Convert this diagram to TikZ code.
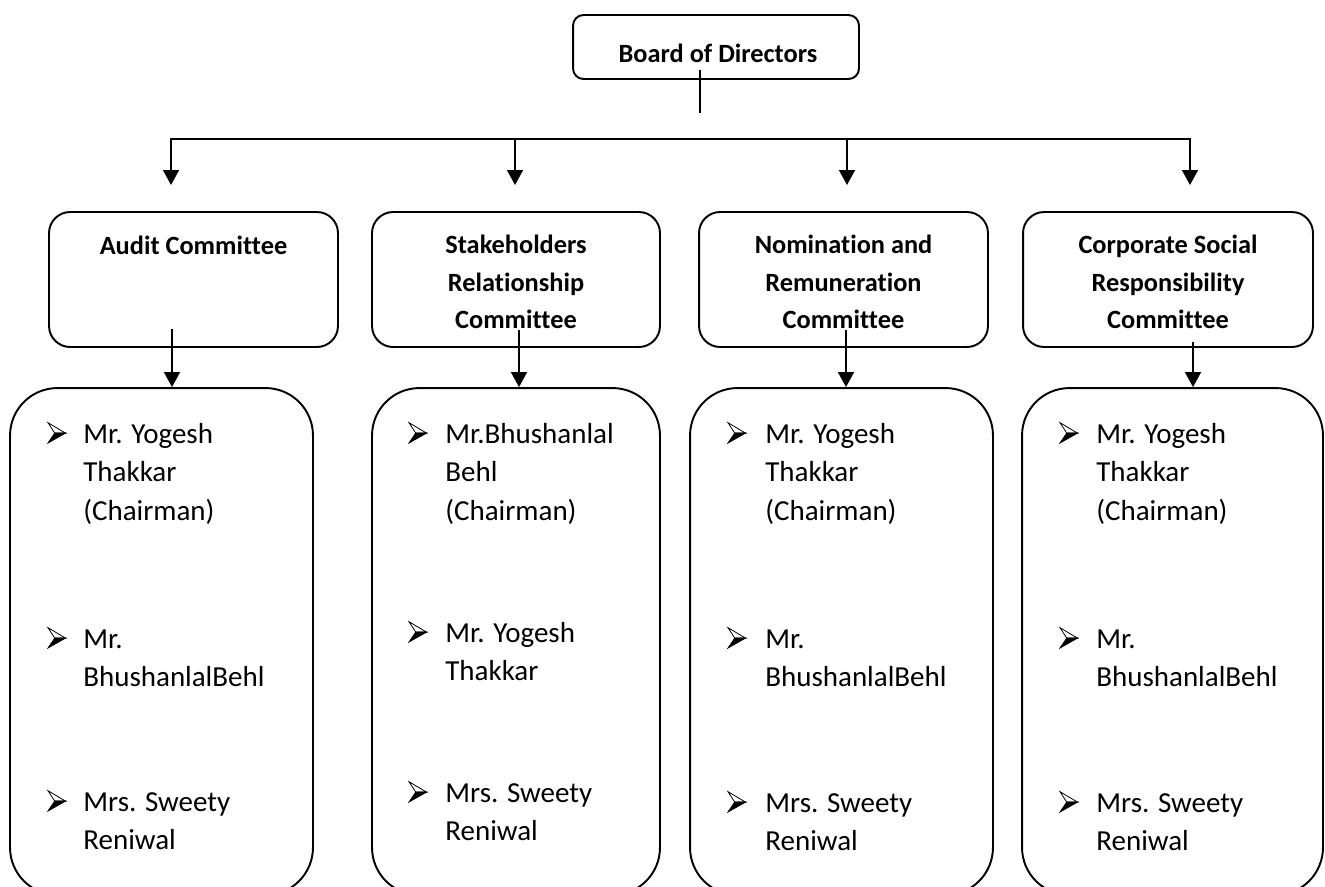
\documentclass[tikz,border=0pt]{standalone}
\usepackage{fontspec}
\setmainfont{Carlito}[Ligatures={NoCommon}]
\usetikzlibrary{arrows.meta}
\begin{document}
\begin{tikzpicture}[x=0.02cm,y=-0.02cm,
  conn/.style={line width=1.1pt},
  arr/.style={conn,-{Triangle[width=9pt,length=8.5pt]}},
  bdbox/.style={draw,line width=1.1pt,rounded corners=6pt,minimum width=5.72cm,minimum height=1.28cm,inner sep=0pt},
  cbox/.style={draw,line width=1.1pt,rounded corners=12pt,minimum height=2.7cm,inner sep=0pt},
  mbox/.style={draw,line width=1.1pt,rounded corners=27pt,minimum height=10.14cm,inner sep=0pt},
  head/.style={font=\fontsize{15}{18}\selectfont\bfseries,inner sep=0pt,anchor=base},
  itemtxt/.style={font=\fontsize{16.5}{20}\selectfont,inner sep=0pt,anchor=base west},
  bularrow/.pic={
    \draw[line width=0.45pt,line join=miter,fill=white] (0,-20.3) -- (17.5,-9.9) -- (6.7,-9.9) -- cycle;
    \filldraw[line width=0.45pt,line join=miter] (6.7,-9.9) -- (17.5,-9.9) -- (0,0) -- cycle;
  },
]
\path[use as bounding box] (0,0) rectangle (1325,886);
\clip (0,0) rectangle (1325,886);

% Board
\node[bdbox] (board) at (716,47) {};
\node[head] (boardt) at (718,62) {Board of Directors};
\coordinate (b1) at (700,70);
\coordinate (b2) at (700,113);
\draw[conn] (b1) -- (b2);

% horizontal distribution line
\coordinate (t1) at (171,139);
\coordinate (t2) at (515,139);
\coordinate (t3) at (847,139);
\coordinate (t4) at (1190,139);
\coordinate (a1) at (171,185);
\coordinate (a2) at (515,185);
\coordinate (a3) at (847,185);
\coordinate (a4) at (1190,185);
\draw[conn,line cap=rect] (t1) -- (t4);
\draw[arr] (t1) -- (a1);
\draw[arr] (t2) -- (a2);
\draw[arr] (t3) -- (a3);
\draw[arr] (t4) -- (a4);

% committee boxes
\node[cbox,minimum width=5.78cm] (audit) at (193.5,279.5) {};
\node[cbox,minimum width=5.76cm] (stake) at (516,279.5) {};
\node[cbox,minimum width=5.78cm] (nomin) at (843.5,279.5) {};
\node[cbox,minimum width=5.80cm] (csr) at (1168,279.5) {};

\node[head] (audit1) at (193.5,254) {Audit Committee};
\node[head] (stake1) at (516,253.5) {Stakeholders};
\node[head] (stake2) at (516,291) {Relationship};
\node[head] (stake3) at (516,328.5) {Committee};
\node[head] (nomin1) at (843.5,253.5) {Nomination and};
\node[head] (nomin2) at (843.5,291) {Remuneration};
\node[head] (nomin3) at (843.5,328.5) {Committee};
\node[head] (csr1) at (1168,253.5) {Corporate Social};
\node[head] (csr2) at (1168,291) {Responsibility};
\node[head] (csr3) at (1168,328.5) {Committee};

% member boxes
\node[mbox,minimum width=6.06cm] (mem1) at (161.5,641.5) {};
\node[mbox,minimum width=5.76cm] (mem2) at (516,641.5) {};
\node[mbox,minimum width=6.06cm] (mem3) at (841.5,641.5) {};
\node[mbox,minimum width=6.02cm] (mem4) at (1172.5,641.5) {};

% committee -> member arrows
\coordinate (s1) at (172,329);
\coordinate (s2) at (519,330);
\coordinate (s3) at (846,330);
\coordinate (s4) at (1193,342);
\draw[arr] (s1) -- (s1 |- mem1.north);
\draw[arr] (s2) -- (s2 |- mem2.north);
\draw[arr] (s3) -- (s3 |- mem3.north);
\draw[arr] (s4) -- (s4 |- mem4.north);

% column 1
\pic at (48,443) {bularrow};
\node[itemtxt] (c1l1) at (83,443) {Mr. Yogesh};
\node[itemtxt] (c1l2) at (83,481.5) {Thakkar};
\node[itemtxt] (c1l3) at (83,520) {(Chairman)};
\pic at (48,648) {bularrow};
\node[itemtxt] (c1l4) at (83,648) {Mr.};
\node[itemtxt] (c1l5) at (83,686.5) {BhushanlalBehl};
\pic at (48,811) {bularrow};
\node[itemtxt] (c1l6) at (83,811) {Mrs. Sweety};
\node[itemtxt] (c1l7) at (83,849.5) {Reniwal};

% column 2
\pic at (409,443) {bularrow};
\node[itemtxt] (c2l1) at (445,443) {Mr.Bhushanlal};
\node[itemtxt] (c2l2) at (445,481.5) {Behl};
\node[itemtxt] (c2l3) at (445,520) {(Chairman)};
\pic at (409,642) {bularrow};
\node[itemtxt] (c2l4) at (445,642) {Mr. Yogesh};
\node[itemtxt] (c2l5) at (445,680.5) {Thakkar};
\pic at (409,802) {bularrow};
\node[itemtxt] (c2l6) at (445,802) {Mrs. Sweety};
\node[itemtxt] (c2l7) at (445,840.5) {Reniwal};

% column 3
\pic at (728,443) {bularrow};
\node[itemtxt] (c3l1) at (765,443) {Mr. Yogesh};
\node[itemtxt] (c3l2) at (765,481.5) {Thakkar};
\node[itemtxt] (c3l3) at (765,520) {(Chairman)};
\pic at (728,648) {bularrow};
\node[itemtxt] (c3l4) at (765,648) {Mr.};
\node[itemtxt] (c3l5) at (765,686.5) {BhushanlalBehl};
\pic at (728,812) {bularrow};
\node[itemtxt] (c3l6) at (765,812) {Mrs. Sweety};
\node[itemtxt] (c3l7) at (765,850.5) {Reniwal};

% column 4
\pic at (1060,443) {bularrow};
\node[itemtxt] (c4l1) at (1096,443) {Mr. Yogesh};
\node[itemtxt] (c4l2) at (1096,481.5) {Thakkar};
\node[itemtxt] (c4l3) at (1096,520) {(Chairman)};
\pic at (1060,648) {bularrow};
\node[itemtxt] (c4l4) at (1096,648) {Mr.};
\node[itemtxt] (c4l5) at (1096,686.5) {BhushanlalBehl};
\pic at (1060,812) {bularrow};
\node[itemtxt] (c4l6) at (1096,812) {Mrs. Sweety};
\node[itemtxt] (c4l7) at (1096,850.5) {Reniwal};
\end{tikzpicture}
\end{document}
